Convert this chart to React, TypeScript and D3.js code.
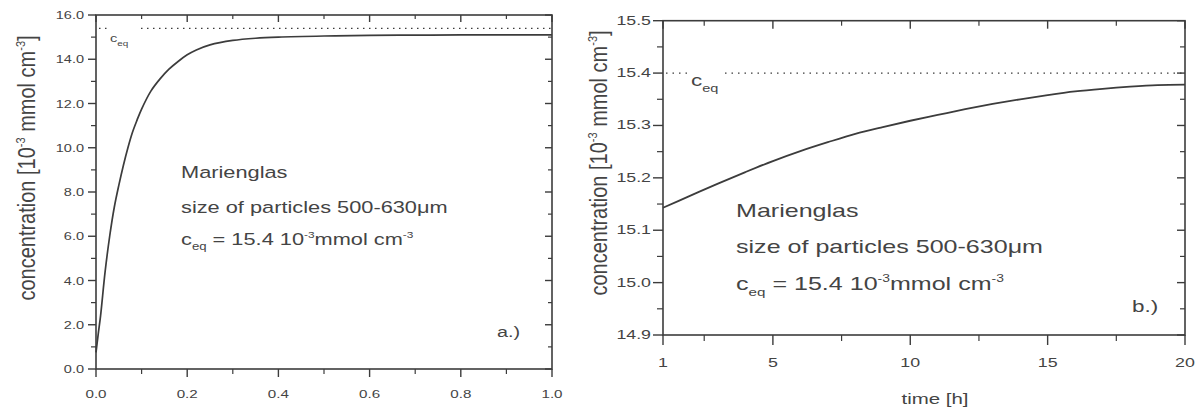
import React from "react";
import * as d3 from "d3";

// ---- data ----
const leftTime = [0, 0.005, 0.01, 0.02, 0.03, 0.04, 0.05, 0.06, 0.07, 0.08, 0.09, 0.1, 0.12, 0.14, 0.16, 0.18, 0.2, 0.22, 0.25, 0.3, 0.35, 0.4, 0.5, 0.6, 0.7, 0.8, 0.9, 1.0];
const leftConc = [0.75, 1.6, 2.4, 4.4, 6.0, 7.3, 8.3, 9.2, 10.0, 10.7, 11.25, 11.75, 12.55, 13.1, 13.55, 13.9, 14.2, 14.42, 14.65, 14.85, 14.95, 15.0, 15.05, 15.08, 15.09, 15.1, 15.1, 15.1];
const rightTime = [1, 2, 3, 4, 5, 6, 7, 8, 9, 10, 11, 12, 13, 14, 15, 16, 17, 18, 19, 20];
const rightConc = [15.143, 15.166, 15.189, 15.211, 15.232, 15.251, 15.268, 15.284, 15.297, 15.309, 15.32, 15.331, 15.341, 15.35, 15.358, 15.365, 15.37, 15.374, 15.377, 15.378];
const ceq = 15.4;
const leftYTicks = [0, 2, 4, 6, 8, 10, 12, 14, 16];
const leftXTicks = [0, 0.2, 0.4, 0.6, 0.8, 1.0];
const rightYTicks = [14.9, 15.0, 15.1, 15.2, 15.3, 15.4, 15.5];
const rightXTicks = [1, 5, 10, 15, 20];
const annotLines = ["Marienglas", "size of particles 500-630\u03bcm"];

const FONT = "'Liberation Sans', Arial, sans-serif";
const INK = "#3c3c3c";
const TXT = "#444";
const SX = 1.32;

function T({ x, y, size, anchor = "start", sx = SX, children, rot = false }: any) {
  return (
    <g transform={`translate(${x},${y}) scale(${sx},1)${rot ? " rotate(-90)" : ""}`}>
      <text fontFamily={FONT} fontSize={size} fill={TXT} textAnchor={anchor}>
        {children}
      </text>
    </g>
  );
}

function Frame({ x, y, majorX, minorX, majorY, minorY, x0, x1, y0, y1, xl, yl, tickOut, tickMin, tickIn, tickInMin, xFmt, yFmt, xFont, yFont, ySX }: any) {
  const els: any[] = [];
  majorX.forEach((v: number, i: number) => {
    const px = x(v);
    els.push(<line key={"bx" + i} x1={px} x2={px} y1={y1} y2={y1 + tickOut} stroke={INK} strokeWidth={1.4} />);
    els.push(<line key={"tx" + i} x1={px} x2={px} y1={y0} y2={y0 + tickIn} stroke={INK} strokeWidth={1.4} />);
    els.push(<T key={"lx" + i} x={px} y={y1 + xl} size={xFont} anchor="middle">{xFmt(v)}</T>);
  });
  minorX.forEach((v: number, i: number) => {
    const px = x(v);
    els.push(<line key={"bmx" + i} x1={px} x2={px} y1={y1} y2={y1 + tickMin} stroke={INK} strokeWidth={1.2} />);
    els.push(<line key={"tmx" + i} x1={px} x2={px} y1={y0} y2={y0 + tickInMin} stroke={INK} strokeWidth={1.2} />);
  });
  majorY.forEach((v: number, i: number) => {
    const py = y(v);
    els.push(<line key={"ly" + i} x1={x0 - tickOut} x2={x0} y1={py} y2={py} stroke={INK} strokeWidth={1.4} />);
    els.push(<line key={"ry" + i} x1={x1 - tickIn} x2={x1} y1={py} y2={py} stroke={INK} strokeWidth={1.4} />);
    els.push(<T key={"tl" + i} x={x0 - yl} y={py + 4} size={yFont} anchor="end" sx={ySX}>{yFmt(v)}</T>);
  });
  minorY.forEach((v: number, i: number) => {
    const py = y(v);
    els.push(<line key={"lmy" + i} x1={x0 - tickMin} x2={x0} y1={py} y2={py} stroke={INK} strokeWidth={1.2} />);
    els.push(<line key={"rmy" + i} x1={x1 - tickInMin} x2={x1} y1={py} y2={py} stroke={INK} strokeWidth={1.2} />);
  });
  els.push(<rect key="box" x={x0} y={y0} width={x1 - x0} height={y1 - y0} fill="none" stroke={INK} strokeWidth={1.6} />);
  return <g>{els}</g>;
}

export default function App() {
  // Left panel
  const lx = d3.scaleLinear().domain([0, 1]).range([96, 552]);
  const ly = d3.scaleLinear().domain([0, 16]).range([369, 15]);
  const leftLine = d3.line<number>().x((_, i) => lx(leftTime[i])).y((d) => ly(d)).curve(d3.curveCatmullRom.alpha(0.5))(leftConc) || "";
  // Right panel
  const rx = d3.scaleLinear().domain([1, 20]).range([663, 1185]);
  const ry = d3.scaleLinear().domain([14.9, 15.5]).range([335, 20.7]);
  const rightLine = d3.line<number>().x((_, i) => rx(rightTime[i])).y((d) => ry(d)).curve(d3.curveCatmullRom.alpha(0.5))(rightConc) || "";

  const leftMinorX = d3.range(0.1, 1.0, 0.2);
  const leftMinorY = d3.range(1, 16, 2);
  const rightMinorX = [2.5, 7.5, 12.5, 17.5];
  const rightMinorY = [14.95, 15.05, 15.15, 15.25, 15.35, 15.45];

  const sup = (s: string, fs: number, d: number) => <tspan fontSize={fs} dy={-d}>{s}</tspan>;

  return (
    <svg width={1203} height={412} style={{ position: "absolute", left: 0, top: 0, background: "#fff" }}>
      <rect x={0} y={0} width={1203} height={412} fill="#fff" />
      {/* Left panel */}
      <Frame x={lx} y={ly} x0={96} x1={552} y0={15} y1={369}
        majorX={leftXTicks} minorX={leftMinorX} majorY={leftYTicks} minorY={leftMinorY}
        xl={29} yl={12} tickOut={8} tickMin={5} tickIn={7} tickInMin={4}
        xFmt={(v: number) => v.toFixed(1)} yFmt={(v: number) => v.toFixed(1)} xFont={11.5} yFont={11} ySX={SX} />
      <line x1={99} x2={109} y1={ly(ceq)} y2={ly(ceq)} stroke={INK} strokeWidth={1.3} strokeDasharray="1.5,4.5" />
      <line x1={141} x2={552} y1={ly(ceq)} y2={ly(ceq)} stroke={INK} strokeWidth={1.3} strokeDasharray="1.5,4.5" />
      <T x={110} y={42} size={11}>c<tspan fontSize={7.5} dy={4}>eq</tspan></T>
      <path d={leftLine} fill="none" stroke={INK} strokeWidth={1.7} />
      <T x={181} y={178} size={16.5}>{annotLines[0]}</T>
      <T x={181} y={213} size={16.5}>{annotLines[1]}</T>
      <T x={181} y={245} size={16.5}>c<tspan fontSize={10} dy={5}>eq</tspan><tspan dy={-5}> = 15.4 10</tspan>{sup("-3", 9, 7)}<tspan dy={7}>mmol cm</tspan>{sup("-3", 9, 7)}</T>
      <T x={497} y={337} size={15}>a.)</T>
      <T x={35} y={168} size={20} sx={1.15} anchor="middle" rot>concentration [10{sup("-3", 11, 9)}<tspan dy={9}> mmol cm</tspan>{sup("-3", 11, 9)}<tspan dy={9}>]</tspan></T>

      {/* Right panel */}
      <Frame x={rx} y={ry} x0={663} x1={1185} y0={20.7} y1={335}
        majorX={rightXTicks} minorX={rightMinorX} majorY={rightYTicks} minorY={rightMinorY}
        xl={32} yl={12} tickOut={10} tickMin={6} tickIn={8} tickInMin={5}
        xFmt={(v: number) => String(v)} yFmt={(v: number) => v.toFixed(1)} xFont={13.5} yFont={12.5} ySX={1.42} />
      <line x1={666} x2={690} y1={ry(ceq)} y2={ry(ceq)} stroke={INK} strokeWidth={1.3} strokeDasharray="1.5,5" />
      <line x1={725} x2={1185} y1={ry(ceq)} y2={ry(ceq)} stroke={INK} strokeWidth={1.3} strokeDasharray="1.5,5" />
      <T x={691} y={86} size={17}>c<tspan fontSize={11} dy={6}>eq</tspan></T>
      <path d={rightLine} fill="none" stroke={INK} strokeWidth={1.8} />
      <T x={736} y={217} size={19}>{annotLines[0]}</T>
      <T x={736} y={253} size={19}>{annotLines[1]}</T>
      <T x={736} y={290} size={19}>c<tspan fontSize={11.5} dy={6}>eq</tspan><tspan dy={-6}> = 15.4 10</tspan>{sup("-3", 10.5, 8)}<tspan dy={8}>mmol cm</tspan>{sup("-3", 10.5, 8)}</T>
      <T x={1132} y={312} size={17}>b.)</T>
      <T x={935} y={404} size={15.5} anchor="middle">time [h]</T>
      <T x={607} y={163} size={20} sx={1.15} anchor="middle" rot>concentration [10{sup("-3", 11, 9)}<tspan dy={9}> mmol cm</tspan>{sup("-3", 11, 9)}<tspan dy={9}>]</tspan></T>
    </svg>
  );
}
